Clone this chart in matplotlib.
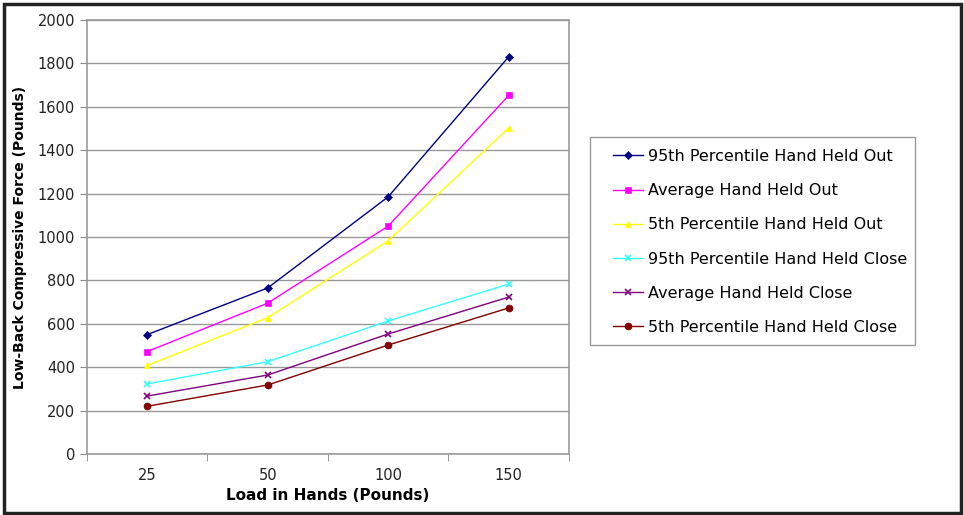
import matplotlib.pyplot as plt
from matplotlib.patches import Rectangle

# Charge dans les mains (catégories) et force de compression lombaire
loads = ["25", "50", "100", "150"]
p95_out = [550, 765, 1185, 1830]
avg_out = [472, 695, 1050, 1652]
p5_out = [408, 628, 982, 1502]
p95_close = [323, 425, 613, 783]
avg_close = [267, 364, 553, 723]
p5_close = [220, 318, 502, 673]

series = [
    ("95th Percentile Hand Held Out", p95_out, "#000080", "D", 4),
    ("Average Hand Held Out", avg_out, "#FF00FF", "s", 5),
    ("5th Percentile Hand Held Out", p5_out, "#FFFF00", "^", 5),
    ("95th Percentile Hand Held Close", p95_close, "#33FFFF", "x", 5),
    ("Average Hand Held Close", avg_close, "#800080", "x", 5),
    ("5th Percentile Hand Held Close", p5_close, "#800000", "o", 5),
]

fig = plt.figure(figsize=(9.64, 5.15), dpi=100)
ax = fig.add_axes([0.0902, 0.1184, 0.5, 0.843])

x = range(len(loads))
for label, vals, color, marker, ms in series:
    ax.plot(x, vals, color=color, marker=marker, markersize=ms, linewidth=1,
            markeredgewidth=1.2 if marker == "x" else 0.5, label=label)

ax.set_ylim(0, 2000)
ax.set_yticks(range(0, 2001, 200))
ax.set_xlim(-0.5, 3.5)
ax.set_xticks(list(x))
ax.set_xticklabels(loads)
ax.set_xticks([-0.5, 0.5, 1.5, 2.5, 3.5], minor=True)
ax.tick_params(axis="x", which="major", length=0, pad=10, labelsize=10.5, colors="#222222")
ax.tick_params(axis="x", which="minor", length=5, color="#888888")
ax.tick_params(axis="y", length=5, color="#888888", labelsize=10.5, labelcolor="#222222")
ax.grid(axis="y", color="#999999", linewidth=1)
ax.set_axisbelow(True)
for side in ["left", "bottom", "top", "right"]:
    ax.spines[side].set_color("#999999")
    ax.spines[side].set_linewidth(1.2)

ax.set_xlabel("Load in Hands (Pounds)", fontsize=11, fontweight="bold", labelpad=4)
ax.set_ylabel("Low-Back Compressive Force (Pounds)", fontsize=10, fontweight="bold", labelpad=8)

# Légende sans cadre, le cadre est dessiné à part
leg = fig.legend(loc="upper left", bbox_to_anchor=(613 / 964, 1 - 149 / 515), fontsize=11.5,
                 labelspacing=1.2, handlelength=1.9, handletextpad=0.3,
                 borderpad=0, frameon=False, borderaxespad=0)
fig.patches.append(Rectangle((590 / 964, 1 - 345 / 515), 325 / 964, 208 / 515,
                             transform=fig.transFigure, fill=False,
                             edgecolor="#999999", linewidth=1))

# Cadre noir autour de la figure
fig.patches.append(Rectangle((0.004, 0.004), 0.993, 0.989, transform=fig.transFigure,
                             fill=False, edgecolor="#222222", linewidth=2.5))

fig.savefig("out.png", dpi=100)
